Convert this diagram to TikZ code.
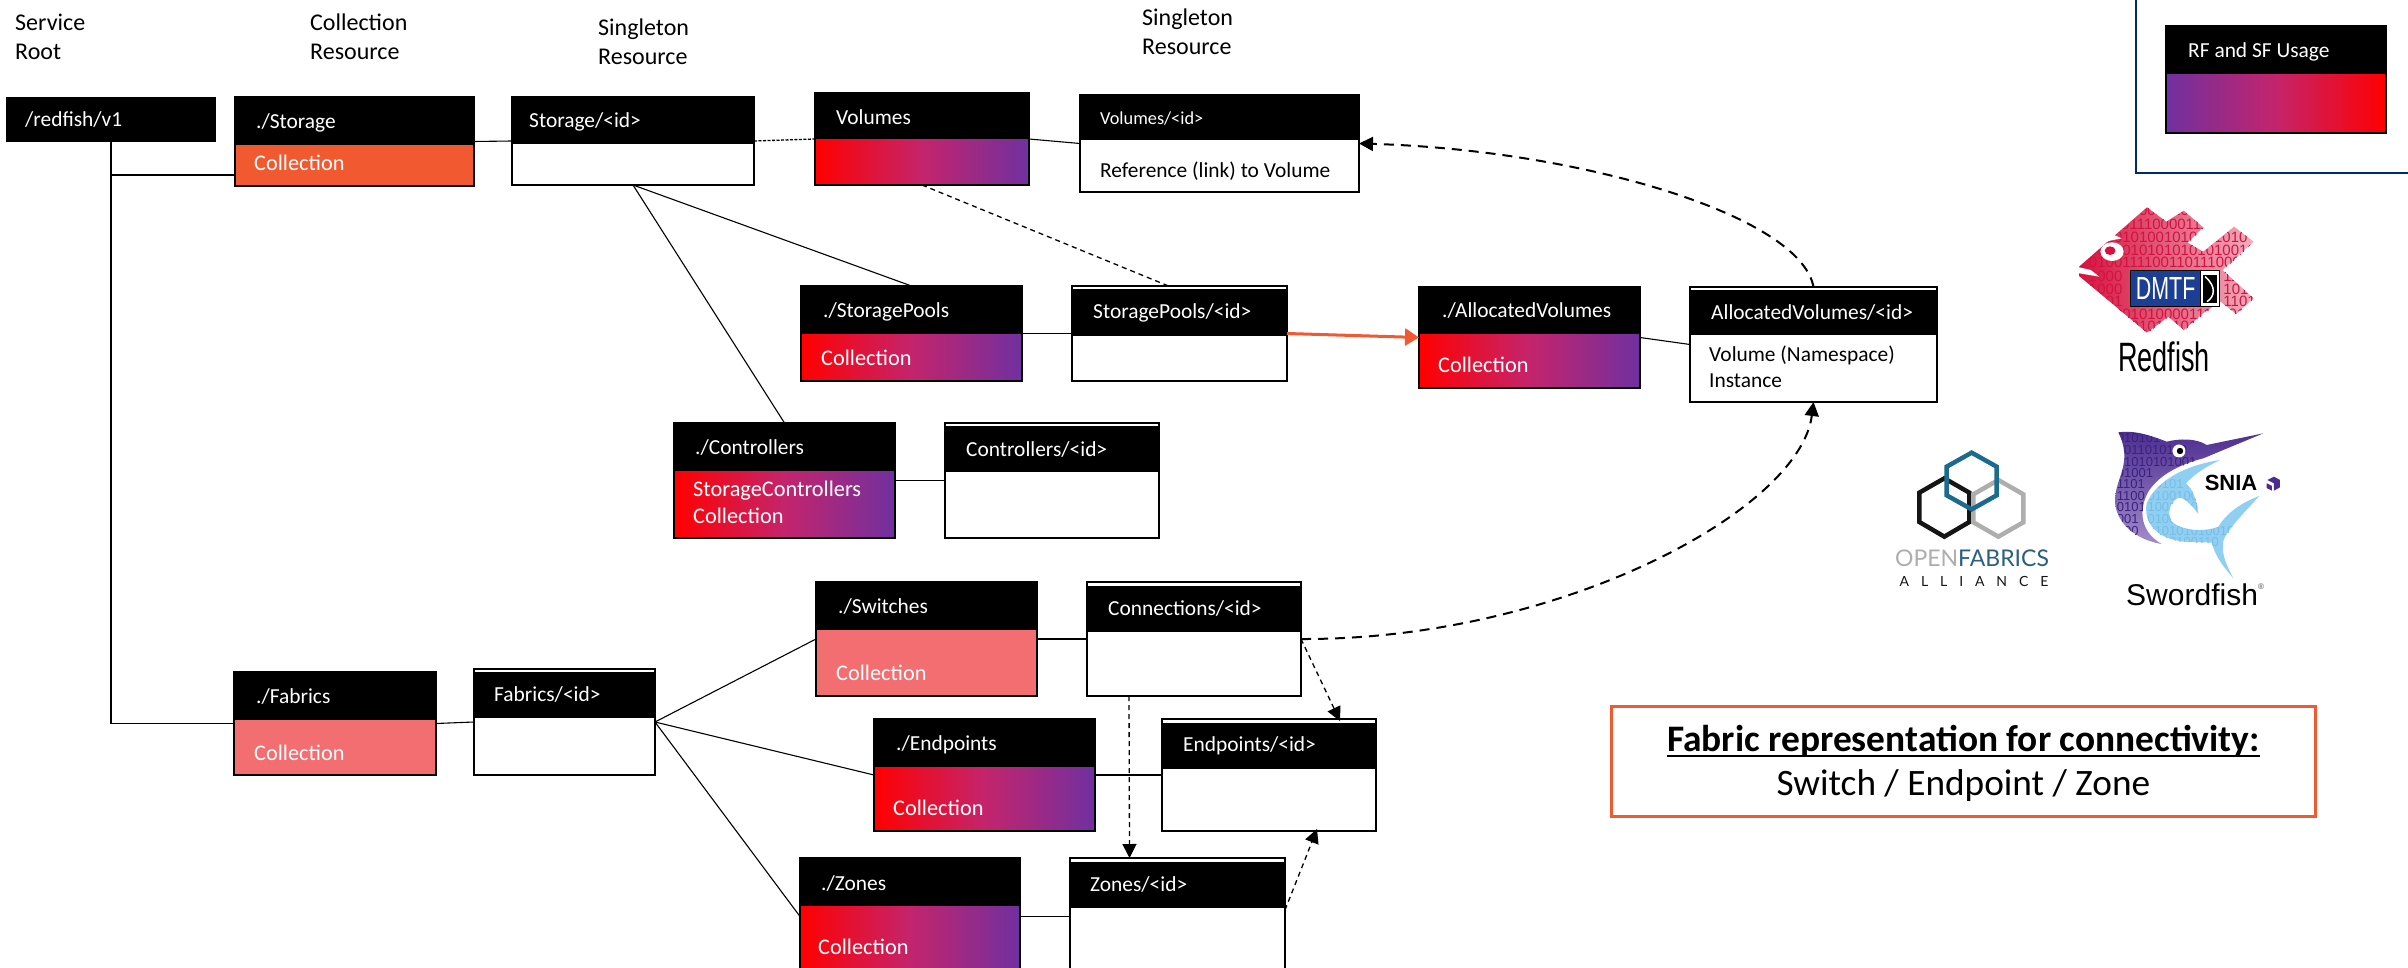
\documentclass[tikz,border=0pt]{standalone}
\usepackage{fontspec}
\usepackage{graphicx}
\usetikzlibrary{arrows.meta}
\setmainfont{Carlito}
\newfontfamily\lib{Liberation Sans}
\newfontfamily\latofont{Lato}
\definecolor{gradred}{HTML}{FF0000}
\definecolor{gradmid}{HTML}{C4246C}
\definecolor{gradpurple}{HTML}{7030A0}
\definecolor{orangefill}{HTML}{F15A31}
\definecolor{pinkfill}{HTML}{F26E70}
\definecolor{navyline}{HTML}{002A6E}
\definecolor{fishred}{HTML}{D5123F}
\definecolor{dmtfblue}{HTML}{1C3F94}
\definecolor{ofablack}{HTML}{151515}
\definecolor{ofagrey}{HTML}{AEAEAE}
\definecolor{ofablue}{HTML}{1C6A8E}
\definecolor{ofatext}{HTML}{2B5F80}
\definecolor{swtop}{HTML}{4B2D8F}
\definecolor{swbottom}{HTML}{A48CCB}
\definecolor{swdig}{HTML}{3A2280}
\definecolor{swblue}{HTML}{8FCFF2}
\definecolor{swbluedark}{HTML}{79BCE6}
\tikzset{
  boxbody/.style={draw=black,line width=1.8pt,fill=white,inner sep=0pt,outer sep=0pt,anchor=north west},
  headbar/.style={fill=black,inner sep=0pt,outer sep=0pt,anchor=north west},
  grad/.style={left color=gradred,right color=gradpurple,middle color=gradmid},
  revgrad/.style={left color=gradpurple,right color=gradred,middle color=gradmid},
  plainfill/.style={fill=white},
  orangebody/.style={fill=orangefill},
  pinkbody/.style={fill=pinkfill},
  hlab/.style={text=white,anchor=west,inner sep=0pt,font=\fontsize{21.4}{26}\selectfont},
  clab/.style={text=white,anchor=west,inner sep=0pt,align=left,font=\fontsize{22.3}{27}\selectfont},
  blab/.style={text=black,anchor=west,inner sep=0pt,align=left,font=\fontsize{21.4}{26}\selectfont},
  toplab/.style={text=black,anchor=west,inner sep=0pt,align=left,font=\fontsize{24}{29}\selectfont},
  link/.style={draw=black,line width=1.1pt},
  thindash/.style={draw=black,line width=1.3pt,dash pattern=on 5pt off 4pt},
  dotdash/.style={draw=black,line width=1.3pt,dash pattern=on 3pt off 1.5pt},
  thickdash/.style={draw=black,line width=2pt,dash pattern=on 10pt off 7pt},
  bighead/.style={-{Triangle[length=14pt,width=14pt]}},
  fishdigit/.style={inner sep=0pt,anchor=west,font=\lib\fontsize{15}{15}\selectfont,text=fishred},
  swdigit/.style={inner sep=0pt,anchor=west,font=\lib\fontsize{13}{13}\selectfont},
}
% name, x1, y1, x2, y2, head top, head bottom, body style
\newcommand{\resbox}[8]{%
  \pgfmathsetmacro{\bw}{#4-#2}\pgfmathsetmacro{\bh}{#5-#3}\pgfmathsetmacro{\hh}{#7-#6}%
  \node[boxbody,#8,minimum width=\bw pt,minimum height=\bh pt] (#1) at (#2,#3) {};%
  \node[headbar,minimum width=\bw pt,minimum height=\hh pt] (#1h) at (#2,#6) {};%
}
\newsavebox{\notebox}
\begin{document}
\begin{tikzpicture}[x=1pt,y=-1pt]
\path[use as bounding box,fill=white] (0,0) rectangle (2408,968);
\clip (0,0) rectangle (2408,968);

\resbox{root}{7}{98}{215}{141}{98}{141}{plainfill}
\resbox{stor}{235}{97}{474}{186}{97}{145}{orangebody}
\resbox{storid}{512}{97}{754}{185}{97}{144}{plainfill}
\resbox{vol}{815}{93}{1029}{185}{93}{139}{grad}
\resbox{volid}{1080}{95}{1359}{192}{95}{140}{plainfill}
\resbox{sp}{801}{286}{1022}{381}{286}{334}{grad}
\resbox{spid}{1072}{286}{1287}{381}{289}{336}{plainfill}
\resbox{av}{1419}{287}{1640}{388}{287}{334}{grad}
\resbox{avid}{1690}{287}{1937}{402}{290}{335}{plainfill}
\resbox{ctl}{674}{423}{895}{538}{423}{471}{grad}
\resbox{ctlid}{945}{423}{1159}{538}{426}{472}{plainfill}
\resbox{fab}{234}{672}{436}{775}{672}{720}{pinkbody}
\resbox{fabid}{474}{669}{655}{775}{672}{718}{plainfill}
\resbox{sw}{816}{582}{1037}{696}{582}{630}{pinkbody}
\resbox{conn}{1087}{582}{1301}{696}{586}{632}{plainfill}
\resbox{ep}{874}{719}{1095}{831}{719}{767}{grad}
\resbox{epid}{1162}{719}{1376}{831}{723}{769}{plainfill}
\resbox{zn}{800}{858}{1020}{975}{858}{906}{grad}
\resbox{znid}{1070}{858}{1285}{975}{862}{908}{plainfill}

% top captions
\node[toplab] (capa) at (15,36.5) {Service\\Root};
\node[toplab] (capb) at (310,36.5) {Collection\\Resource};
\node[toplab] (capc) at (598,42) {Singleton\\Resource};
\node[toplab] (capd) at (1142,32) {Singleton\\Resource};

% box labels
\node[hlab] (lroot) at (25,120) {/redfish/v1};
\node[hlab] (lstor) at (256,123) {./Storage};
\node[clab] (cstor) at (254,163) {Collection};
\node[hlab] (lstorid) at (529,122) {Storage/<id>};
\node[hlab] (lvol) at (836,117) {Volumes};
\node[hlab,font=\fontsize{18.3}{22}\selectfont] (lvolid) at (1100,119) {Volumes/<id>};
\node[blab] (bvolid) at (1100,171) {Reference (link) to Volume};
\node[hlab] (lsp) at (823,312) {./StoragePools};
\node[clab] (csp) at (821,358) {Collection};
\node[hlab] (lspid) at (1093,313) {StoragePools/<id>};
\node[hlab] (lav) at (1442,311) {./AllocatedVolumes};
\node[clab] (cav) at (1438,365) {Collection};
\node[hlab] (lavid) at (1711,313) {AllocatedVolumes/<id>};
\node[blab] (bavid) at (1709,367) {Volume (Namespace)\\Instance};
\node[hlab] (lctl) at (695,448) {./Controllers};
\node[clab] (cctl) at (693,502.5) {StorageControllers\\Collection};
\node[hlab] (lctlid) at (966,450) {Controllers/<id>};
\node[hlab] (lfab) at (256,697) {./Fabrics};
\node[clab] (cfab) at (254,753) {Collection};
\node[hlab] (lfabid) at (494,695) {Fabrics/<id>};
\node[hlab] (lsw) at (838,607) {./Switches};
\node[clab] (csw) at (836,673) {Collection};
\node[hlab] (lconn) at (1108,609) {Connections/<id>};
\node[hlab] (lep) at (896,745) {./Endpoints};
\node[clab] (cep) at (893,808) {Collection};
\node[hlab] (lepid) at (1183,746) {Endpoints/<id>};
\node[hlab] (lzn) at (821,884) {./Zones};
\node[clab] (czn) at (818,947) {Collection};
\node[hlab] (lznid) at (1090,885) {Zones/<id>};

% solid connectors
\draw[link] (root.south) -- (root.south |- fab.west) -- (fab.west);
\draw[link] (root.south |- 0,175) -- ([yshift=-33.5pt]stor.west);
\draw[link] (stor.east) -- (storid.west);
\draw[link] (storid.south) -- (sp.north);
\draw[link] (storid.south) -- (ctl.north);
\draw[link] (vol.east) -- (volid.west);
\draw[link] (sp.east) -- (spid.west);
\draw[link] (av.east) -- (avid.west);
\draw[link] (ctl.east) -- (ctlid.west);
\draw[link] (fab.east) -- (fabid.west);
\draw[link] (fabid.east) -- (sw.west);
\draw[link] (fabid.east) -- (ep.west);
\draw[link] (fabid.east) -- (zn.west);
\draw[link] (sw.east) -- (conn.west);
\draw[link] (ep.east) -- (epid.west);
\draw[link] (zn.east) -- (znid.west);

% dashed connectors
\draw[dotdash] (storid.east) -- (vol.west);
\draw[thindash] (vol.south) -- ([xshift=-11pt]spid.north);
\draw[thindash,bighead] (conn.east) -- ([xshift=71pt,yshift=-2pt]epid.north);
\draw[thindash,bighead] ([xshift=-65pt]conn.south) -- ([xshift=-48pt]znid.north);
\draw[thindash,bighead] (znid.east |- 0,910) -- ([xshift=48pt,yshift=2pt]epid.south);
\draw[thickdash,bighead] (avid.north) .. controls (1800,215) and (1580,150) .. (volid.east);
\draw[thickdash,bighead] (conn.east) .. controls (1560,640) and (1800,510) .. (avid.south);
\draw[orangefill,line width=3pt,-{Triangle[length=14pt,width=17pt]}] (spid.east) -- (av.west);

% legend
\draw[navyline,line width=2.2pt] (2136,0) -- (2136,173) -- (2408,173);
\resbox{leg}{2166}{26}{2386}{133}{26}{74}{revgrad}
\node[hlab] (lleg) at (2188,52) {RF and SF Usage};

% note
\node[draw=orangefill,line width=3pt,fill=white,inner sep=0pt,anchor=north west,minimum width=704pt,minimum height=110pt] (note) at (1610,705) {};
\node[inner sep=0pt,anchor=center,font=\bfseries\fontsize{37.4}{40}\selectfont] (notea) at (note.center |- 0,741) {\sbox{\notebox}{Fabric representation for connectivity:}\rlap{\rule[-6pt]{\wd\notebox}{2.6pt}}\usebox{\notebox}};
\node[inner sep=0pt,anchor=center,font=\fontsize{37.3}{40}\selectfont] (noteb) at (note.center |- 0,786) {Switch / Endpoint / Zone};

% Redfish logo (zoomed coordinates)
\begin{scope}[shift={(1800,0)},x=0.3876pt,y=-0.3333pt]
  \def\fishpath{(720,800)--(895,622)--(945,665)--(990,632)--(1040,682)--(1000,728)--(1040,755)--(1120,680)--(1170,725)--(1090,810)--(1170,895)--(1125,942)--(1085,905)--(1040,940)--(990,990)--(950,950)--(895,998)--(720,828)--cycle}
  \begin{scope}
    \clip \fishpath;
    \shade[left color=fishred,right color=fishred!35!white] (720,620) rectangle (1170,1000);
    \foreach \i/\yy/\ds in {1/632/0101010010101010,2/672/1011011100001110,3/712/1010101001010101010,4/750/0001010101010101001010,5/788/0100111100110111000010,9/942/1010010100001110101,10/980/1010101010101}
      \node[fishdigit] (fd\i) at (745,\yy) {\ds};
    \foreach \i/\yy/\ds in {6/828/1000,7/868/1000,8/905/0101}
      \node[fishdigit] (fdl\i) at (745,\yy) {\ds};
    \foreach \i/\yy/\ds in {6/828/1101,7/868/1010,8/905/1101}
      \node[fishdigit] (fdr\i) at (1092,\yy) {\ds};
  \end{scope}
  \fill[white] (720,820) -- (772,830) -- (750,810) -- (712,800) -- cycle;
  \fill[white] (805,755) ellipse[x radius=30,y radius=28];
  \fill[fishred] (800,752) ellipse[x radius=14,y radius=13];
  \fill[white] (770,735) -- (800,700) -- (830,715) -- (800,722) -- cycle;
  \node[draw=black,fill=white,line width=0.8pt,inner sep=0pt,anchor=north west,minimum width=19pt,minimum height=36pt] (dmtfw) at (1032,810) {};
  \fill[black] (1040,825) rectangle (1075,908);
  \draw[white,line width=1.5pt] (1045,830) .. controls (1075,860) and (1070,890) .. (1050,905);
  \node[fill=dmtfblue,draw=black,line width=0.8pt,inner sep=0pt,anchor=north west,minimum width=70pt,minimum height=36pt,text=white,font=\lib\fontsize{32}{32}\selectfont] (dmtf) at (852,810) {\scalebox{.67}[1]{DMTF}};
\end{scope}
\node[inner sep=0pt,font=\lib\fontsize{41}{41}\selectfont] (rfword) at (2164,357) {\scalebox{.66}[1]{Redfish}};

% OpenFabrics logo
\begin{scope}[shift={(1850,400)},x=0.3333pt,y=-0.3333pt]
  \draw[ofablack,line width=4.5pt,line join=miter] (283,235) -- (358,278) -- (358,366) -- (283,410) -- (208,366) -- (208,278) -- cycle;
  \draw[ofagrey,line width=4.5pt] (445,240) -- (520,283) -- (520,367) -- (445,410) -- (370,367) -- (370,283) -- cycle;
  \draw[ofablue,line width=4.5pt] (365,158) -- (440,200) -- (440,286) -- (365,328) -- (290,286) -- (290,200) -- cycle;
\end{scope}
\node[inner sep=0pt,font=\latofont\fontsize{23}{25}\selectfont] (ofaa) at (1972,558) {\textcolor{ofagrey}{OPEN}\textcolor{ofatext}{FABRICS}};
\node[inner sep=0pt,font=\latofont\fontsize{14}{14}\selectfont\addfontfeature{LetterSpace=85}] (ofab) at (1974,581) {\textcolor{ofablack}{ALLIANCE}};

% Swordfish logo
\begin{scope}[shift={(1850,400)},x=0.3333pt,y=-0.3333pt]
  \def\purplepath{(805,97) .. controls (850,90) and (900,105) .. (950,125) .. controls (990,115) and (1040,115) .. (1070,135) -- (1240,100) -- (1060,175) .. controls (1000,190) and (930,220) .. (895,275) .. controls (865,330) and (870,395) .. (935,432) .. controls (860,420) and (795,370) .. (795,300) .. controls (797,230) and (850,190) .. (805,97) -- cycle}
  \def\bluepath{(1110,180) .. controls (1010,195) and (920,240) .. (890,310) .. controls (880,370) and (920,415) .. (1000,425) -- (1085,428) .. controls (1100,480) and (1130,510) .. (1150,535) .. controls (1120,480) and (1110,440) .. (1125,410) .. controls (1150,370) and (1190,330) .. (1228,288) .. controls (1170,310) and (1130,340) .. (1105,380) .. controls (1070,395) and (1000,395) .. (965,365) .. controls (950,340) and (960,300) .. (990,292) .. controls (1010,300) and (1030,320) .. (1045,342) .. controls (1040,300) and (1030,270) .. (1008,250) .. controls (1040,215) and (1080,195) .. (1110,180) -- cycle}
  \begin{scope}
    \clip \purplepath;
    \shade[top color=swtop,bottom color=swbottom] (790,90) rectangle (1245,435);
    \foreach \i/\yy/\ds in {1/115/010101,2/150/1011010110,3/185/01010101001,4/218/01001,5/253/1101,6/287/1100,7/322/0101,8/357/001,9/392/000}
      \node[swdigit,text=swdig] (sp\i x) at (800,\yy) {\ds};
  \end{scope}
  \begin{scope}
    \clip \bluepath;
    \fill[swblue] (880,170) rectangle (1235,540);
    \foreach \i/\yy/\ds in {1/253/00101,2/287/0100100,3/322/1001010,4/357/0100101010,5/392/01010101001010,6/427/0100100110,7/462/010101010}
      \node[swdigit,text=swbluedark] (sb\i x) at (892,\yy) {\ds};
  \end{scope}
  \fill[white] (987,153) circle[radius=6.5pt];
  \fill[black] (990,153) circle[radius=3.2pt];
  \fill[swtop] (1272,230) -- (1290,240) -- (1290,262) -- (1272,272) -- (1272,250) -- (1252,240) -- cycle;
  \fill[swtop] (1250,250) -- (1266,258) -- (1266,272) -- (1250,264) -- cycle;
\end{scope}
\node[inner sep=0pt,font=\lib\bfseries\fontsize{22}{22}\selectfont] (snia) at (2231,483) {SNIA};
\node[inner sep=0pt,anchor=west,font=\lib\fontsize{30}{30}\selectfont] (swword) at (2126,595) {Swordfish};
\node[inner sep=0pt,anchor=west,text=black!70,font=\lib\fontsize{8}{8}\selectfont] (swreg) at (2258,587) {®};
\end{tikzpicture}
\end{document}
